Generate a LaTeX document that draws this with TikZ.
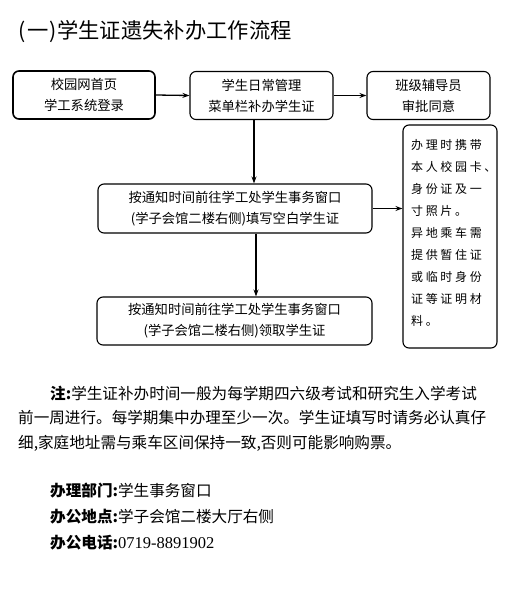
\documentclass[tikz,border=0pt]{standalone}
\usepackage{fontspec}
\setmainfont{Noto Sans CJK SC}
\newfontfamily\sidefont[LetterSpace=22]{Noto Sans CJK SC}
\newfontfamily\latserif{Liberation Serif}
\usetikzlibrary{arrows.meta}
\tikzset{
  box/.style={draw, rounded corners=6pt, line width=1.1pt, minimum height=48pt, align=center, font=\fontsize{13.3}{21}\selectfont, inner sep=0pt},
  arr/.style={line width=1.3pt, -{Stealth[length=7pt,width=5pt]}},
  txt/.style={anchor=west, inner sep=0pt, font=\fontsize{15.6}{20}\selectfont},
  sidetxt/.style={anchor=west, inner sep=0pt, font=\fontsize{12}{14}\sidefont}
}
\begin{document}
\begin{tikzpicture}[x=1pt,y=-1pt]
\useasboundingbox (0,0) rectangle (529,600);
\node[anchor=west, inner sep=0pt, font=\fontsize{21.3}{24}\selectfont] (title) at (18,32) {(\hspace{2.5pt}一)\hspace{1pt}学生证遗失补办工作流程};
\node[box, line width=1.6pt, minimum width=142pt] (b1) at (84,95) {校园网首页\\学工系统登录};
\node[box, minimum width=143pt] (b2) at (261.5,95.5) {学生日常管理\\菜单栏补办学生证};
\node[box, minimum width=123pt] (b3) at (428.5,95.5) {班级辅导员\\审批同意};
\node[box, minimum width=274pt, minimum height=49pt] (b4) at (235,208.5) {按通知时间前往学工处学生事务窗口\\(学子会馆二楼右侧)填写空白学生证};
\node[box, minimum width=275pt] (b5) at (234.5,321) {按通知时间前往学工处学生事务窗口\\(学子会馆二楼右侧)领取学生证};
\node[draw, rounded corners=6pt, line width=1.1pt, minimum width=94pt, minimum height=223pt, inner sep=0pt] (side) at (450,236.5) {};
\foreach \t [count=\i] in {办理时携带,本人校园卡、,身份证及一,寸照片。,异地乘车需,提供暂住证,或临时身份,证等证明材,料。}
  \node[sidetxt] (s\i) at (411,{145+22*(\i-1)}) {\t};
\draw[arr] (b1.east) -- (b2.west);
\draw[arr] (b2.east) -- (b3.west);
\coordinate (c1) at (254,0);
\coordinate (c2) at (256,0);
\draw[arr, line width=1.8pt] (b2.south -| c1) -- (b4.north -| c1);
\draw[arr, line width=1.8pt] (b4.south -| c2) -- (b5.north -| c2);
\draw[arr] (b4.east) -- (b4.east -| side.west);
\node[txt] (n1) at (50,393) {\textbf{注:}学生证补办时间一般为每学期四六级考试和研究生入学考试};
\node[txt] (n2) at (18,418) {前一周进行。每学期集中办理至少一次。学生证填写时请务必认真仔};
\node[txt] (n3) at (18,443) {细,家庭地址需与乘车区间保持一致,否则可能影响购票。};
\node[txt] (m1) at (50,491) {\textbf{办理部门:}学生事务窗口};
\node[txt] (m2) at (50,517) {\textbf{办公地点:}学子会馆二楼大厅右侧};
\node[txt] (m3) at (50,543) {\textbf{办公电话:}{\latserif\fontsize{16.5}{20}\selectfont 0719-8891902}};
\end{tikzpicture}
\end{document}
